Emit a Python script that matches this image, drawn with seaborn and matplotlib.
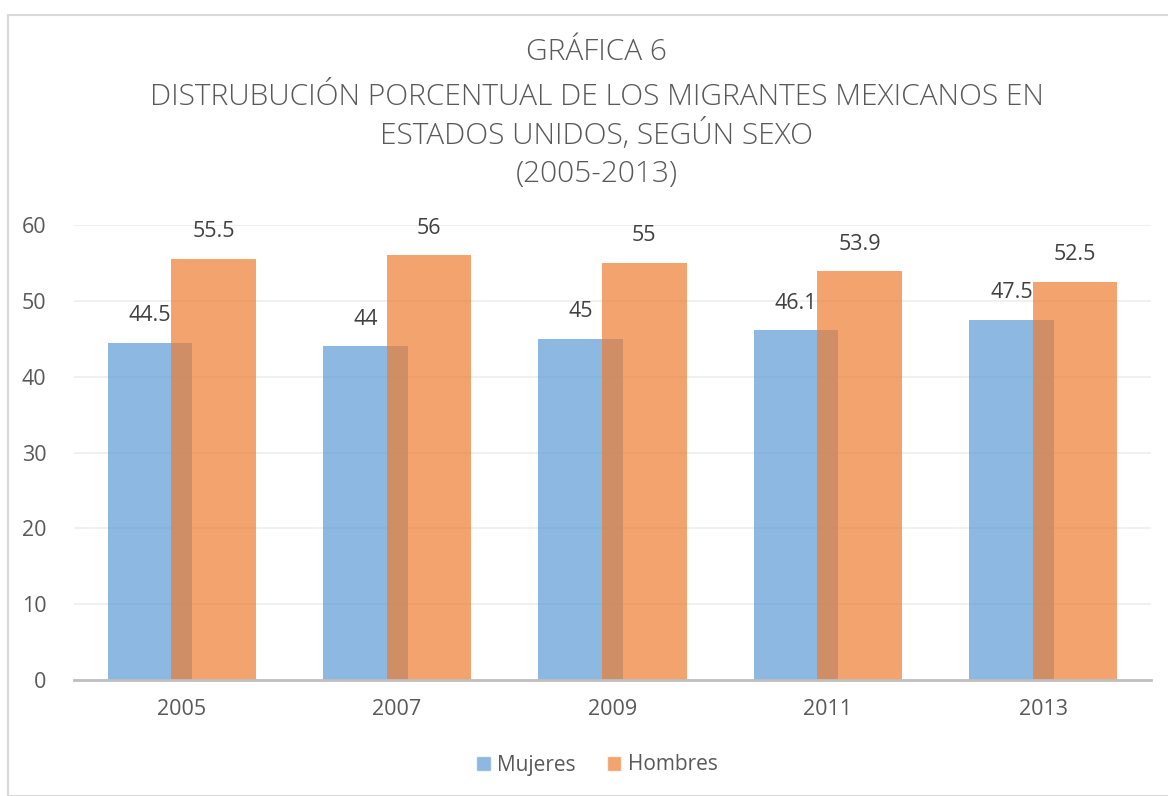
import pandas as pd
import matplotlib
matplotlib.use("Agg")
import matplotlib.pyplot as plt
import seaborn as sns
from matplotlib.patches import Rectangle

years = ["2005", "2007", "2009", "2011", "2013"]
mujeres = [44.5, 44, 45, 46.1, 47.5]
hombres = [55.5, 56, 55, 53.9, 52.5]
labels_m = ["44.5", "44", "45", "46.1", "47.5"]
labels_h = ["55.5", "56", "55", "53.9", "52.5"]
title_lines = ["GRÁFICA 6",
               "DISTRUBUCIÓN PORCENTUAL DE LOS MIGRANTES MEXICANOS EN",
               "ESTADOS UNIDOS, SEGÚN SEXO",
               "(2005-2013)"]

df = pd.DataFrame({
    "Año": years * 2,
    "Sexo": ["Mujeres"] * len(years) + ["Hombres"] * len(years),
    "Porcentaje": mujeres + hombres,
})

sns.set_style("white")
plt.rcParams["font.family"] = ["Open Sans", "DejaVu Sans"]
gray = "#595959"

fig = plt.figure(figsize=(11.68, 7.96), dpi=100)
fig.patches.append(Rectangle((8 / 1168, 0), 2, 1 - 15 / 796, transform=fig.transFigure,
                             fill=False, edgecolor="#D9D9D9", linewidth=1.5))
ax = fig.add_axes([74 / 1168, 1 - 680 / 796, (1151 - 74) / 1168, (680 - 225) / 796])

palette = {"Mujeres": "#5B9BD5", "Hombres": "#ED7D31"}
sns.barplot(data=df, x="Año", y="Porcentaje", hue="Sexo", palette=palette,
            width=0.59, gap=-0.33, alpha=0.7, saturation=1, linewidth=0,
            ax=ax, legend=False)

for cont, labs in zip(ax.containers, [labels_m, labels_h]):
    ax.bar_label(cont, labels=labs, padding=12, fontsize=15.5, color="#404040")

ax.set_ylim(0, 60)
ax.set_xlim(-0.5, 4.5)
ax.set_yticks(range(0, 61, 10))
ax.yaxis.grid(True, color="#EEEEEE", linewidth=1.2)
ax.set_axisbelow(True)
for s in ["top", "right", "left"]:
    ax.spines[s].set_visible(False)
ax.spines["bottom"].set_color("#BFBFBF")
ax.spines["bottom"].set_linewidth(2)
ax.tick_params(axis="both", length=0, labelsize=15.5, labelcolor=gray)
ax.tick_params(axis="y", pad=20)
ax.tick_params(axis="x", pad=14)
ax.set_xlabel("")
ax.set_ylabel("")

for line, ypix in zip(title_lines, [52, 97, 135, 174]):
    fig.text(0.511, 1 - ypix / 796, line, ha="center", va="center",
             fontsize=21.5, color=gray, fontweight="light")

handles = [Rectangle((0, 0), 1, 1, facecolor=palette[k], alpha=0.7) for k in ["Mujeres", "Hombres"]]
fig.legend(handles, ["Mujeres", "Hombres"], loc="center", bbox_to_anchor=(0.511, 1 - 765 / 796),
           ncol=2, frameon=False, fontsize=15, labelcolor=gray, handlelength=0.7,
           handleheight=0.7, handletextpad=0.3, columnspacing=1.5)

fig.savefig("out.png", dpi=100)
